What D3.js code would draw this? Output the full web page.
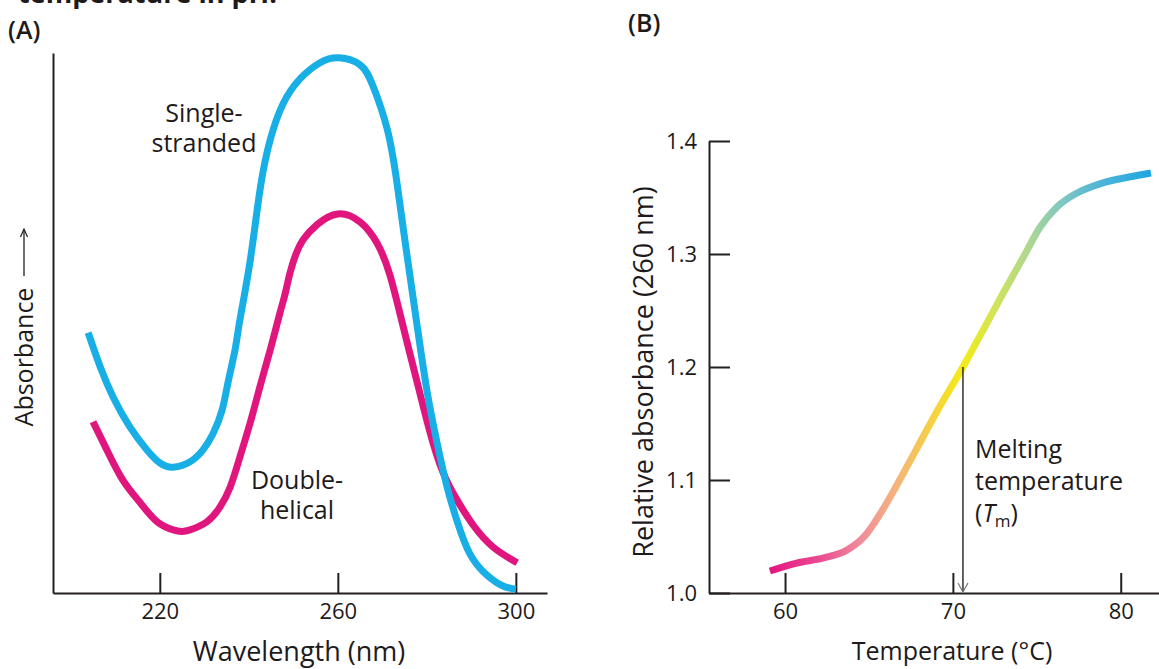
<!DOCTYPE html>
<html>
<head>
<meta charset="utf-8">
<script src="https://cdn.jsdelivr.net/npm/d3@7"></script>
<style>
  html, body { margin: 0; padding: 0; background: #ffffff; }
  svg { display: block; }
  text { font-family: "Open Sans", "Noto Sans", sans-serif; fill: #1E1A1B; }
</style>
</head>
<body>
<svg id="chart" width="1159" height="669"></svg>
<script>
// ---------- Data (panel A: absorbance spectra, arbitrary units) ----------
const wavelengthSS = [203.9, 206.6, 209.5, 213.3, 217.1, 220.0, 223.0, 226.8, 229.7, 232.0, 234.0, 235.3, 236.9, 238.0, 240.3, 242.5, 244.8, 247.7, 251.5, 256.0, 260.3, 265.0, 267.9, 271.1, 273.3, 275.5, 277.8, 280.0, 282.3, 284.5, 286.8, 289.7, 293.5, 297.1, 300.0];
const absorbanceSS = [48.2, 41.9, 36.3, 30.7, 26.5, 24.1, 23.3, 24.3, 26.5, 29.6, 33.9, 38.9, 45.0, 50.6, 61.5, 74.6, 83.9, 90.6, 95.2, 98.2, 99.1, 97.8, 93.9, 85.9, 75.9, 62.8, 49.6, 37.6, 27.8, 19.8, 13.3, 7.2, 3.3, 1.3, 0.7];
const wavelengthDH = [205.0, 208.1, 211.7, 215.6, 219.4, 223.0, 224.9, 226.8, 230.6, 233.5, 235.8, 238.0, 240.3, 242.5, 244.8, 247.0, 248.1, 249.3, 250.6, 252.2, 255.3, 260.0, 265.0, 268.8, 271.7, 274.6, 277.8, 280.7, 283.6, 286.8, 290.4, 294.9, 300.3];
const absorbanceDH = [31.7, 26.5, 20.9, 16.7, 13.2, 11.7, 11.4, 11.7, 13.2, 15.9, 19.6, 25.2, 31.5, 38.2, 45.0, 51.9, 55.2, 59.4, 62.8, 65.4, 68.2, 70.2, 68.7, 64.8, 58.9, 49.6, 39.1, 29.8, 22.4, 17.2, 12.6, 8.5, 5.6];
const wavelengthTicks = [220, 260, 300];

// ---------- Data (panel B: melting curve) ----------
const temperature = [59.1, 60.7, 62.3, 63.7, 64.7, 65.7, 66.6, 67.8, 69.0, 70.6, 71.8, 73.0, 74.2, 75.2, 76.2, 77.4, 78.9, 80.5, 81.8];
const relAbsorbance = [1.0195, 1.0265, 1.031, 1.038, 1.0496, 1.0708, 1.0938, 1.1265, 1.1593, 1.2, 1.2327, 1.2655, 1.2973, 1.3239, 1.3416, 1.354, 1.3628, 1.3681, 1.3717];
const temperatureTicks = [60, 70, 80];
const relAbsTicks = [1.0, 1.1, 1.2, 1.3, 1.4];
const meltingTemp = 70.6;
const meltingAbs = 1.2;
// gradient colours along the temperature axis
const gradTemps  = [59, 62, 64.5, 66.5, 69, 70.6, 72.5, 74.5, 76.5, 79, 82];
const gradColors = ["#E3137F", "#E94B92", "#F08C9B", "#F5B27E", "#F6D43C", "#F3EC14", "#D2E35A", "#AED88F", "#7FC7C2", "#4BB3D9", "#1BA5E2"];

const ink = "#231F20";
const blue = "#18AEE6";
const magenta = "#E0157D";

const svg = d3.select("#chart");

// cut-off heading from the page above
svg.append("text").attr("x", 18).attr("y", 3)
  .attr("font-size", 27).attr("font-weight", 700).text("temperature in pH.");

function multiline(x, y, lines, size, lineGap, anchor) {
  const t = svg.append("text").attr("x", x).attr("y", y)
    .attr("font-size", size).attr("text-anchor", anchor);
  lines.forEach((s, i) => t.append("tspan").attr("x", x).attr("dy", i === 0 ? 0 : lineGap).text(s));
  return t;
}

// ================= Panel A =================
const xA = d3.scaleLinear().domain([196, 307]).range([53, 547]);
const yA = d3.scaleLinear().domain([0, 100]).range([593, 53]);

svg.append("text").attr("x", 8).attr("y", 39).attr("font-size", 25).attr("font-weight", 600).text("(A)");

const gAx = svg.append("g").attr("transform", "translate(0,593)")
  .call(d3.axisBottom(xA).tickValues(wavelengthTicks).tickSizeInner(-20).tickSizeOuter(0).tickPadding(10));
gAx.selectAll("path, line").attr("stroke", ink).attr("stroke-width", 2);
gAx.selectAll("text").attr("font-size", 22).attr("fill", ink).style("font-family", "'Open Sans', sans-serif");

const gAy = svg.append("g").attr("transform", "translate(53,0)")
  .call(d3.axisLeft(yA).tickValues([]).tickSizeOuter(0));
gAy.selectAll("path").attr("stroke", ink).attr("stroke-width", 2);

svg.append("text").attr("x", 299).attr("y", 661).attr("text-anchor", "middle")
  .attr("font-size", 27).text("Wavelength (nm)");

// Absorbance label with arrow
svg.append("text").attr("transform", "translate(33,357) rotate(-90)")
  .attr("text-anchor", "middle").attr("font-size", 25).text("Absorbance");
svg.append("line").attr("x1", 24).attr("x2", 24).attr("y1", 276).attr("y2", 230)
  .attr("stroke", ink).attr("stroke-width", 1.3);
svg.append("path").attr("d", "M20.5,237 L24,229 L27.5,237")
  .attr("fill", "none").attr("stroke", ink).attr("stroke-width", 1.2);

const lineA = d3.line().curve(d3.curveNatural)
  .x(d => xA(d[0])).y(d => yA(d[1]));

svg.append("path").datum(wavelengthDH.map((w, i) => [w, absorbanceDH[i]]))
  .attr("d", lineA).attr("fill", "none").attr("stroke", magenta).attr("stroke-width", 7);
svg.append("path").datum(wavelengthSS.map((w, i) => [w, absorbanceSS[i]]))
  .attr("d", lineA).attr("fill", "none").attr("stroke", blue).attr("stroke-width", 7);

multiline(204, 122, ["Single-", "stranded"], 25, 30, "middle");
multiline(297, 489, ["Double-", "helical"], 25, 30, "middle");

// ================= Panel B =================
const xB = d3.scaleLinear().domain([55.47, 82.28]).range([709, 1159]);
const yB = d3.scaleLinear().domain([1.0, 1.4]).range([593, 141]);

svg.append("text").attr("x", 628).attr("y", 32).attr("font-size", 25).attr("font-weight", 600).text("(B)");

const gBx = svg.append("g").attr("transform", "translate(0,593)")
  .call(d3.axisBottom(xB).tickValues(temperatureTicks).tickSizeInner(-20).tickSizeOuter(0).tickPadding(10));
gBx.selectAll("path, line").attr("stroke", ink).attr("stroke-width", 2);
gBx.selectAll("text").attr("font-size", 22).attr("fill", ink).style("font-family", "'Open Sans', sans-serif");

const gBy = svg.append("g").attr("transform", "translate(709,0)")
  .call(d3.axisLeft(yB).tickValues(relAbsTicks).tickFormat(d3.format(".1f")).tickSizeInner(-21).tickSizeOuter(0).tickPadding(12));
gBy.selectAll("path, line").attr("stroke", ink).attr("stroke-width", 2);
gBy.selectAll("text").attr("font-size", 22).attr("fill", ink).style("font-family", "'Open Sans', sans-serif");

svg.append("text").attr("transform", "translate(653,372) rotate(-90)")
  .attr("text-anchor", "middle").attr("font-size", 27).text("Relative absorbance (260 nm)");

svg.append("text").attr("x", 952).attr("y", 660).attr("text-anchor", "middle")
  .attr("font-size", 25).text("Temperature (°C)");

// gradient
const defs = svg.append("defs");
const grad = defs.append("linearGradient").attr("id", "meltGrad")
  .attr("gradientUnits", "userSpaceOnUse")
  .attr("x1", xB(gradTemps[0])).attr("x2", xB(gradTemps[gradTemps.length - 1]))
  .attr("y1", 0).attr("y2", 0);
const t0 = gradTemps[0], t1 = gradTemps[gradTemps.length - 1];
grad.selectAll("stop").data(gradTemps).enter().append("stop")
  .attr("offset", d => (d - t0) / (t1 - t0))
  .attr("stop-color", (d, i) => gradColors[i]);

const lineB = d3.line().curve(d3.curveMonotoneX)
  .x(d => xB(d[0])).y(d => yB(d[1]));
svg.append("path").datum(temperature.map((t, i) => [t, relAbsorbance[i]]))
  .attr("d", lineB).attr("fill", "none").attr("stroke", "url(#meltGrad)").attr("stroke-width", 7);

// melting temperature arrow
const mx = xB(meltingTemp);
svg.append("line").attr("x1", mx).attr("x2", mx).attr("y1", yB(meltingAbs)).attr("y2", 592)
  .attr("stroke", ink).attr("stroke-width", 1.4);
svg.append("path").attr("d", `M${mx - 5},583 L${mx},592 L${mx + 5},583`)
  .attr("fill", "none").attr("stroke", "#777").attr("stroke-width", 1.2);

const tmText = multiline(975, 458, ["Melting", "temperature"], 25, 32, "start");
const tmLast = tmText.append("tspan").attr("x", 975).attr("dy", 32);
tmLast.append("tspan").text("(");
tmLast.append("tspan").attr("font-style", "italic").text("T");
tmLast.append("tspan").attr("font-size", 17).attr("dy", 5).text("m");
tmLast.append("tspan").attr("dy", -5).text(")");
</script>
</body>
</html>
